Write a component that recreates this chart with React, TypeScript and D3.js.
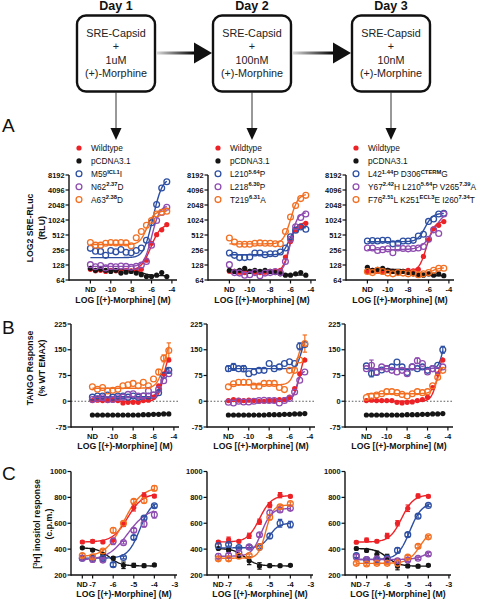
import React from "react";
import * as d3 from "d3";

const FONT = "'Liberation Sans', Arial, Helvetica, sans-serif";

// ---------- flow diagram ----------
const dayTitles = ["Day 1", "Day 2", "Day 3"];
const doses = ["1uM", "100nM", "10nM"];

// ---------- shared ----------
const seriesColors = ["#ec2227", "#151515", "#2d4fa3", "#8e4cb0", "#f36f22"];
const seriesFilled = [true, true, false, false, false];

const legend1 = [["Wildtype"], ["pCDNA3.1"], ["M59", "ICL1", "I"], ["N62", "2.37", "D"], ["A63", "2.38", "D"]];
const legend2 = [["Wildtype"], ["pCDNA3.1"], ["L210", "5.64", "P"], ["L218", "6.30", "P"], ["T219", "6.31", "A"]];
const legend3 = [
  ["Wildtype"],
  ["pCDNA3.1"],
  ["L42", "1.44", "P D306", "CTERM", "G"],
  ["Y67", "2.42", "H L210", "5.64", "P V265", "7.39", "A"],
  ["F76", "2.51", "L K251", "ECL3", "E I260", "7.34", "T"],
];

// ---------- x values ----------
const xAB = [-12, -11.5, -11, -10.5, -10, -9.5, -9, -8.5, -8, -7.5, -7, -6.5, -6, -5.5, -5, -4.5];
const xC = [-7.5, -7, -6.5, -6, -5.5, -5, -4.5, -4];

const abTickValues = [-12, -10, -8, -6, -4];
const abTickLabels = ["ND", "-10", "-8", "-6", "-4"];
const cTickValues = [-7.5, -7, -6, -5, -4, -3];
const cTickLabels = ["ND", "-7", "-6", "-5", "-4", "-3"];

const aYTicks = [64, 128, 256, 512, 1024, 2048, 4096, 8192];
const bYTicks = [-75, 0, 75, 150, 225];
const cYTicks = [200, 400, 600, 800, 1000];

// ---------- Panel A (SRE-RLuc, RLU) ----------
const a1WT = [105, 98, 100, 95, 100, 98, 92, 100, 98, 100, 105, 160, 350, 520, 650, 830];
const a1PC = [110, 100, 105, 100, 95, 100, 88, 92, 95, 88, 82, 75, 75, 80, 90, 75];
const a1M59 = [276, 242, 240, 200, 250, 235, 262, 230, 225, 250, 280, 400, 900, 2100, 4500, 6000];
const a1N62 = [130, 118, 125, 112, 120, 118, 122, 120, 115, 120, 128, 150, 320, 1000, 1450, 1850];
const a1A63 = [360, 320, 320, 350, 360, 355, 360, 355, 310, 450, 600, 800, 1000, 1350, 1470, 1540];

const a2WT = [96, 95, 92, 90, 95, 92, 90, 92, 95, 96, 100, 185, 380, 640, 760, 880];
const a2PC = [100, 95, 100, 110, 95, 100, 95, 100, 95, 90, 85, 80, 80, 85, 90, 80];
const a2L210 = [223, 200, 180, 180, 185, 223, 223, 205, 215, 215, 233, 281, 470, 640, 740, 670];
const a2L218 = [130, 90, 88, 80, 82, 90, 78, 88, 90, 95, 90, 150, 420, 750, 1150, 1350];
const a2T219 = [445, 370, 333, 333, 333, 350, 355, 350, 350, 340, 340, 600, 1180, 2000, 2750, 3200];

const a3WT = [95, 100, 95, 92, 100, 95, 92, 95, 100, 98, 105, 190, 410, 680, 800, 950];
const a3PC = [115, 100, 105, 110, 100, 95, 90, 95, 90, 85, 80, 80, 85, 80, 85, 78];
const a3L42 = [388, 395, 388, 400, 400, 340, 350, 388, 388, 400, 490, 530, 960, 1070, 1350, 1400];
const a3Y67 = [280, 280, 250, 260, 270, 225, 280, 275, 270, 275, 280, 300, 420, 650, 550, 1350];
const a3F76 = [95, 90, 100, 95, 88, 85, 90, 88, 85, 88, 82, 85, 90, 100, 110, 110];

// fitted curves: [bottom, top, logEC50, hill]
const a1Fits = [[100, 850, -5.6, 1.0], [102, 78, -7.0, 1.0], [180, 7000, -5.2, 1.2], [120, 2000, -5.5, 1.3], [330, 1550, -6.2, 1.3]];
const a2Fits = [[93, 900, -5.8, 1.5], [100, 80, -7.0, 1.0], [205, 720, -6.0, 1.5], [88, 1450, -5.6, 1.5], [340, 3400, -5.6, 1.3]];
const a3Fits = [[95, 960, -5.8, 1.3], [105, 78, -7.5, 1.0], [375, 1400, -6.1, 1.2], [260, 1600, -5.0, 0.8], [88, 112, -5.5, 1.5]];

// ---------- Panel B (TANGO, % WT EMAX) ----------
const b1WT = [2, 3, 2, 2, 3, 2, -5, -3, -3, -3, 2, 3, 12, 45, 80, 120];
const b1PC = [-40, -40, -40, -40, -40, -40, -40, -40, -40, -40, -39, -39, -38, -38, -37, -37];
const b1M59 = [12, 15, 15, 18, 12, 15, 15, 12, 15, 12, 15, 15, 18, 25, 75, 90];
const b1N62 = [5, 8, 10, 5, 5, 10, 12, 20, 22, 15, 15, 30, 18, 35, 60, 80];
const b1A63 = [42, 35, 40, 30, 32, 35, 45, 48, 52, 45, 55, 45, 65, 85, 125, 148];

const b2WT = [2, 5, 3, 2, 3, 2, 0, 0, 2, 2, 5, 5, 12, 37, 80, 120];
const b2PC = [-40, -40, -40, -40, -40, -40, -40, -40, -39, -39, -39, -38, -38, -37, -37, -36];
const b2L210 = [95, 100, 95, 95, 80, 85, 90, 90, 110, 95, 100, 110, 115, 110, 160, 165];
const b2L218 = [-3, -5, 0, -2, -2, 0, 2, 3, 2, 2, -5, 2, 8, 27, 61, 85];
const b2T219 = [42, 51, 55, 55, 55, 44, 44, 52, 52, 52, 40, 34, 90, 90, 120, 168];

const b3WT = [2, 3, 2, 2, 2, 2, -3, -5, -3, -2, 2, 5, 12, 40, 80, 120];
const b3PC = [-40, -40, -40, -40, -40, -40, -40, -40, -39, -39, -39, -38, -38, -37, -37, -36];
const b3L42 = [103, 81, 84, 91, 95, 100, 114, 100, 84, 100, 95, 100, 90, 95, 105, 150];
const b3Y67 = [95, 105, 85, 100, 95, 90, 85, 90, 80, 100, 118, 110, 85, 95, 90, 100];
const b3F76 = [11, 15, 18, 22, 28, 28, 25, 20, 15, 22, 28, 25, 28, 45, 70, 90];

const b1Fits = [[0, 150, -5.0, 1.5], [-40, -36, -6.0, 1.0], [13, 100, -5.2, 2.0], [10, 90, -5.3, 1.5], [38, 200, -4.9, 1.2]];
const b2Fits = [[1, 150, -5.0, 1.5], [-40, -36, -6.0, 1.0], [95, 180, -4.9, 2.0], [0, 90, -5.3, 1.8], [48, 180, -5.3, 1.5]];
const b3Fits = [[0, 150, -5.0, 1.5], [-40, -36, -6.0, 1.0], [95, 200, -4.5, 2.0], [95, 96, -6.0, 1.0], [22, 110, -5.0, 1.5]];

// error bars in B: [column, series, point, error]
const bErrors = [
  [0, 4, 15, 22], [0, 4, 14, 10], [0, 4, 13, 8], [0, 2, 15, 8],
  [1, 4, 15, 25], [1, 2, 0, 8], [1, 2, 1, 10], [1, 2, 3, 9], [1, 2, 14, 10],
  [2, 2, 15, 10], [2, 3, 1, 15], [2, 2, 1, 10], [2, 3, 10, 8],
];

// ---------- Panel C ([3H] inositol, c.p.m.) ----------
const c1WT = [455, 460, 455, 470, 590, 720, 815, 810];
const c1PC = [410, 393, 360, 330, 275, 275, 272, 278];
const c1M59 = [330, 330, 330, 280, 335, 490, 640, 735];
const c1N62 = [330, 320, 315, 460, 450, 545, 595, 665];
const c1A63 = [350, 340, 385, 545, 600, 770, 775, 870];
const c1Err = [[10, 12, 8, 10, 15, 25, 20, 12], [8, 8, 10, 12, 25, 15, 12, 8], [12, 10, 8, 15, 10, 15, 15, 12], [15, 20, 12, 25, 10, 15, 25, 25], [15, 10, 12, 20, 15, 15, 20, 20]];

const c2WT = [455, 473, 460, 503, 612, 740, 817, 808];
const c2PC = [405, 394, 348, 310, 270, 272, 272, 275];
const c2L210 = [427, 435, 413, 417, 417, 501, 600, 590];
const c2L218 = [345, 352, 371, 417, 511, 681, 702, 715];
const c2T219 = [325, 325, 345, 350, 417, 646, 727, 753];
const c2Err = [[10, 20, 10, 20, 20, 20, 20, 10], [8, 10, 15, 30, 25, 12, 10, 8], [15, 12, 10, 12, 12, 20, 30, 25], [20, 15, 15, 12, 15, 20, 15, 15], [15, 15, 10, 12, 25, 20, 15, 12]];

const c3WT = [453, 470, 461, 502, 600, 716, 811, 808];
const c3PC = [405, 390, 360, 340, 270, 270, 268, 275];
const c3L42 = [350, 320, 320, 330, 390, 512, 655, 738];
const c3Y67 = [340, 320, 325, 320, 310, 315, 330, 362];
const c3F76 = [290, 285, 290, 290, 290, 338, 422, 495];
const c3Err = [[10, 15, 10, 20, 20, 25, 15, 10], [10, 10, 25, 20, 30, 12, 12, 8], [15, 10, 10, 15, 20, 15, 15, 10], [20, 10, 10, 10, 10, 10, 10, 12], [12, 10, 10, 10, 35, 12, 12, 10]];

const c1Fits = [[455, 830, -5.3, 1.2], [410, 270, -6.2, 1.5], [330, 780, -4.7, 1.5], [315, 720, -5.3, 0.9], [340, 880, -5.5, 1.0]];
const c2Fits = [[455, 815, -5.5, 1.5], [405, 270, -6.2, 1.5], [410, 600, -5.0, 2.0], [345, 715, -5.4, 1.8], [330, 740, -5.2, 2.5]];
const c3Fits = [[455, 820, -5.3, 1.5], [405, 268, -6.0, 1.5], [320, 760, -4.9, 1.5], [320, 420, -4.0, 1.5], [290, 560, -4.4, 1.5]];

// ---------- helpers ----------
function logistic(x: number, p: number[]) {
  const [b, t, ec, h] = p;
  return b + (t - b) / (1 + Math.pow(10, (ec - x) * h));
}

type PlotProps = {
  L: number;
  xDomain: number[];
  width: number;
  y: any;
  yTicks: number[];
  xTickValues: number[];
  xTickLabels: string[];
  xs: number[];
  data: number[][];
  fits: number[][];
  errs?: number[][];
  zero?: boolean;
  tickLabelY: number;
  titleY: number;
};

function Plot(p: PlotProps) {
  const x = d3.scaleLinear().domain(p.xDomain).range([p.L, p.L + p.width]);
  const y = p.y;
  const [y0, y1] = y.range();
  const fitX = d3.range(0, 101).map((i) => p.xs[0] + ((p.xs[p.xs.length - 1] - p.xs[0]) * i) / 100);
  const line = d3
    .line<number[]>()
    .x((d) => x(d[0]))
    .y((d) => y(d[1]));
  const x0 = p.L;
  const x1 = p.L + p.width;
  return (
    <g fontFamily={FONT}>
      {p.zero && (
        <line x1={x0} x2={x1} y1={y(0)} y2={y(0)} stroke="#333" strokeWidth={0.8} strokeDasharray="1.6,1.8" />
      )}
      {/* fits */}
      {p.fits.map((f, si) => (
        <path key={"f" + si} d={line(fitX.map((xv) => [xv, logistic(xv, f)])) || ""} fill="none" stroke={seriesColors[si]} strokeWidth={1.4} />
      ))}
      {/* error bars */}
      {p.errs &&
        p.errs.map((es, si) =>
          es.map((e, i) => {
            if (!e) return null;
            const cx = x(p.xs[i]);
            const v = p.data[si][i];
            const ya = y(v - e);
            const yb = y(v + e);
            return (
              <g key={`e${si}-${i}`} stroke={seriesColors[si]} strokeWidth={1.2}>
                <line x1={cx} x2={cx} y1={ya} y2={yb} />
                <line x1={cx - 2.2} x2={cx + 2.2} y1={ya} y2={ya} />
                <line x1={cx - 2.2} x2={cx + 2.2} y1={yb} y2={yb} />
              </g>
            );
          })
        )}
      {/* points */}
      {p.data.map((s, si) =>
        s.map((v, i) =>
          seriesFilled[si] ? (
            <circle key={`p${si}-${i}`} cx={x(p.xs[i])} cy={y(v)} r={2.6} fill={seriesColors[si]} />
          ) : (
            <circle key={`p${si}-${i}`} cx={x(p.xs[i])} cy={y(v)} r={2.9} fill="none" stroke={seriesColors[si]} strokeWidth={1.3} />
          )
        )
      )}
      {/* axes */}
      <line x1={x0} x2={x0} y1={y0 + 0.7} y2={y1} stroke="#111" strokeWidth={1.4} />
      <line x1={x0} x2={x1} y1={y0} y2={y0} stroke="#111" strokeWidth={1.4} />
      {p.yTicks.map((t) => (
        <g key={"yt" + t}>
          <line x1={x0 - 3.5} x2={x0} y1={y(t)} y2={y(t)} stroke="#111" strokeWidth={1.2} />
          <text x={x0 - 4.5} y={y(t) + 2.6} textAnchor="end" fontSize={7.4} fontWeight="bold" fill="#111">
            {t}
          </text>
        </g>
      ))}
      {p.xTickValues.map((t, i) => (
        <g key={"xt" + i}>
          <line x1={x(t)} x2={x(t)} y1={y0} y2={y0 + 3.5} stroke="#111" strokeWidth={1.2} />
          <text x={x(t)} y={p.tickLabelY} textAnchor="middle" fontSize={7.6} fontWeight="bold" fill="#111">
            {p.xTickLabels[i]}
          </text>
        </g>
      ))}
      <text x={(x0 + x1) / 2} y={p.titleY} textAnchor="middle" fontSize={8.7} fontWeight="bold" fill="#111">
        LOG [(+)-Morphine] (M)
      </text>
    </g>
  );
}

function LegendLabel({ x, y, parts }: { x: number; y: number; parts: string[] }) {
  return (
    <text x={x} y={y} fontSize={8.3} fontFamily={FONT} fill="#111">
      {parts.map((s, i) =>
        i % 2 === 0 ? (
          <tspan key={i} dy={i === 0 ? 0 : 3.3}>
            {s}
          </tspan>
        ) : (
          <tspan key={i} dy={-3.3} fontSize={5.8} fontWeight="bold">
            {s}
          </tspan>
        )
      )}
    </text>
  );
}

function Legend({ L, rows }: { L: number; rows: string[][] }) {
  return (
    <g>
      {rows.map((r, i) => {
        const cy = 148 + i * 12.9;
        return (
          <g key={i}>
            {seriesFilled[i] ? (
              <circle cx={L + 10} cy={cy} r={2.6} fill={seriesColors[i]} />
            ) : (
              <circle cx={L + 10} cy={cy} r={2.9} fill="none" stroke={seriesColors[i]} strokeWidth={1.3} />
            )}
            <LegendLabel x={L + 22} y={cy + 3} parts={r} />
          </g>
        );
      })}
    </g>
  );
}

function YTitle({ x, y, lines }: { x: number; y: number; lines: React.ReactNode[] }) {
  return (
    <g fontFamily={FONT} fontWeight="bold" fontSize={8.7} fill="#111">
      {lines.map((l, i) => (
        <text key={i} transform={`translate(${x + i * 11.5},${y}) rotate(-90)`} textAnchor="middle">
          {l}
        </text>
      ))}
    </g>
  );
}

const boxX = [77, 213, 352];

export default function App() {
  const aY = d3.scaleLog().base(2).domain([64, 8192]).range([280, 175]);
  const bY = d3.scaleLinear().domain([-75, 225]).range([427, 324]);
  const cY = d3.scaleLinear().domain([200, 1000]).range([575, 471.5]);
  const abDomain = [-14.1, -3.5];
  const cDomain = [-8.05, -2.9];
  const aL = [69, 208, 346];
  const bL = [71, 207, 345];
  const cL = [71, 207, 345];
  const aData = [
    [a1WT, a1PC, a1M59, a1N62, a1A63],
    [a2WT, a2PC, a2L210, a2L218, a2T219],
    [a3WT, a3PC, a3L42, a3Y67, a3F76],
  ];
  const aFits = [a1Fits, a2Fits, a3Fits];
  const bData = [
    [b1WT, b1PC, b1M59, b1N62, b1A63],
    [b2WT, b2PC, b2L210, b2L218, b2T219],
    [b3WT, b3PC, b3L42, b3Y67, b3F76],
  ];
  const bFits = [b1Fits, b2Fits, b3Fits];
  const bErrs = [0, 1, 2].map((c) => {
    const m = [0, 1, 2, 3, 4].map(() => xAB.map(() => 0));
    bErrors.filter((e) => e[0] === c).forEach((e) => (m[e[1]][e[2]] = e[3]));
    return m;
  });
  const cData = [
    [c1WT, c1PC, c1M59, c1N62, c1A63],
    [c2WT, c2PC, c2L210, c2L218, c2T219],
    [c3WT, c3PC, c3L42, c3Y67, c3F76],
  ];
  const cFits = [c1Fits, c2Fits, c3Fits];
  const cErrs = [c1Err, c2Err, c3Err];
  const legends = [legend1, legend2, legend3];

  return (
    <svg width={480} height={600} style={{ position: "fixed", left: 0, top: 0, background: "#fff" }}>
      <defs>
        <linearGradient id="shaft" x1="0" x2="1" y1="0" y2="0">
          <stop offset="0" stopColor="#d8d8d8" />
          <stop offset="1" stopColor="#000" />
        </linearGradient>
      </defs>
      <rect x={0} y={0} width={480} height={600} fill="#fff" />
      {/* flow diagram */}
      {boxX.map((bx, i) => {
        const cx = bx + 39;
        return (
          <g key={"box" + i} fontFamily={FONT}>
            <text x={cx} y={10} textAnchor="middle" fontWeight="bold" fontSize={12.5} fill="#111">
              {dayTitles[i]}
            </text>
            <rect x={bx} y={15.5} width={78} height={76} rx={9} fill="#fff" stroke="#111" strokeWidth={2.4} />
            {["SRE-Capsid", "+", doses[i], "(+)-Morphine"].map((t, j) => (
              <text key={j} x={cx} y={37 + j * 13.4} textAnchor="middle" fontSize={10.8} fill="#222">
                {t}
              </text>
            ))}
            <line x1={cx} x2={cx} y1={92} y2={130} stroke="#333" strokeWidth={1} />
            <polygon points={`${cx - 5.5},128 ${cx + 5.5},128 ${cx},140`} fill="#111" />
          </g>
        );
      })}
      {[0, 1].map((i) => {
        const xa = boxX[i] + 80;
        const xb = boxX[i + 1] - 1;
        return (
          <g key={"arr" + i}>
            <rect x={xa} y={51.5} width={xb - 17 - xa} height={3} fill="url(#shaft)" />
            <polygon points={`${xb - 18},42.5 ${xb},53 ${xb - 18},63.5`} fill="#111" />
          </g>
        );
      })}
      {/* panel letters */}
      <g fontFamily={FONT} fontSize={19} fill="#111">
        <text x={2} y={132}>A</text>
        <text x={2} y={334}>B</text>
        <text x={2} y={480}>C</text>
      </g>
      {/* y titles */}
      <YTitle x={33} y={228} lines={["LOG2 SRE-RLuc", "(RLU)"]} />
      <YTitle x={33} y={368} lines={["TANGO Response", "(% WT EMAX)"]} />
      <YTitle
        x={40}
        y={524}
        lines={[
          <>
            [<tspan fontSize={5.8} dy={-3}>3</tspan>
            <tspan dy={3}>H] inositol response</tspan>
          </>,
          "(c.p.m.)",
        ]}
      />
      {/* Panel A */}
      {[0, 1, 2].map((c) => (
        <g key={"A" + c}>
          <Legend L={aL[c]} rows={legends[c]} />
          <Plot
            L={aL[c]}
            xDomain={abDomain}
            width={108}
            y={aY}
            yTicks={aYTicks}
            xTickValues={abTickValues}
            xTickLabels={abTickLabels}
            xs={xAB}
            data={aData[c]}
            fits={aFits[c]}
            tickLabelY={292}
            titleY={303}
          />
        </g>
      ))}
      {/* Panel B */}
      {[0, 1, 2].map((c) => (
        <Plot
          key={"B" + c}
          L={bL[c]}
          xDomain={abDomain}
          width={108}
          y={bY}
          yTicks={bYTicks}
          xTickValues={abTickValues}
          xTickLabels={abTickLabels}
          xs={xAB}
          data={bData[c]}
          fits={bFits[c]}
          errs={bErrs[c]}
          zero
          tickLabelY={439}
          titleY={449}
        />
      ))}
      {/* Panel C */}
      {[0, 1, 2].map((c) => (
        <Plot
          key={"C" + c}
          L={cL[c]}
          xDomain={cDomain}
          width={106}
          y={cY}
          yTicks={cYTicks}
          xTickValues={cTickValues}
          xTickLabels={cTickLabels}
          xs={xC}
          data={cData[c]}
          fits={cFits[c]}
          errs={cErrs[c]}
          tickLabelY={587}
          titleY={597}
        />
      ))}
    </svg>
  );
}
